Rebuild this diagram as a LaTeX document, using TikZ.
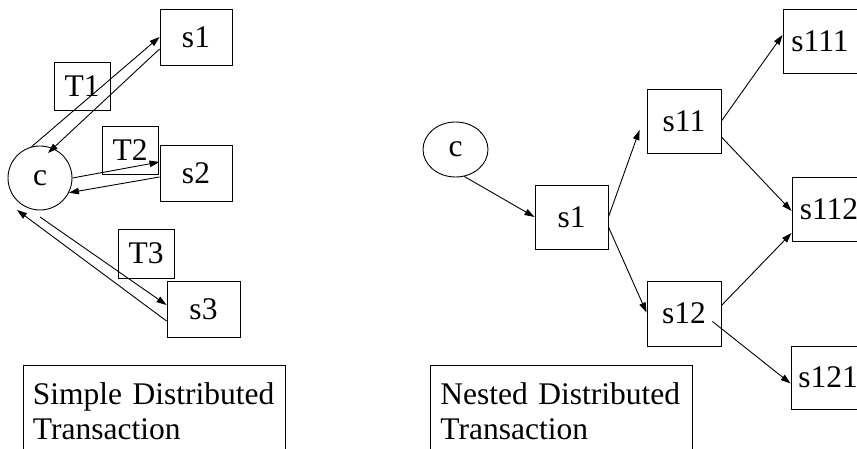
\documentclass[tikz,border=0pt]{standalone}
\usepackage{fontspec}
\setmainfont{Liberation Serif}
\usetikzlibrary{arrows.meta,calc,shapes.geometric}

\tikzset{
  site/.style={draw, rectangle, line width=0.9pt, inner sep=0pt, minimum width=74pt, minimum height=64pt},
  tlabel/.style={draw, rectangle, line width=0.9pt, inner sep=0pt, minimum width=56pt, minimum height=48pt},
  client/.style={draw, ellipse, line width=0.9pt, inner sep=0pt},
  caption/.style={draw, rectangle, line width=0.9pt, anchor=north west, align=left,
                  text width=242pt, inner xsep=10pt, inner ysep=17pt},
  msg/.style={-{Triangle[length=10pt,width=6.5pt]}, line width=0.9pt},
}

\begin{document}
\begin{tikzpicture}[x=1pt, y=-1pt, font=\fontsize{31.5}{35}\selectfont]
  \useasboundingbox (0,0) rectangle (857,449);
  \clip (0,0) rectangle (857,449);

  % Simple distributed transaction (left)
  \node[client, minimum width=64pt, minimum height=64pt] (c) at (40,178) {c};
  \node[site, minimum width=72pt, minimum height=56pt] (s1) at (196,37) {s1};
  \node[site, minimum width=72pt, minimum height=56pt] (s2) at (196,173) {s2};
  \node[site, minimum width=73pt, minimum height=56pt] (s3) at (203.5,309) {s3};
  \node[tlabel] (t1) at (82,86) {T1};
  \node[tlabel] (t2) at (130,150) {T2};
  \node[tlabel, minimum height=49pt] (t3) at (146,253.5) {T3};
  \node[caption] (simple) at (22.5,365) {Simple Distributed\\Transaction};

  % Requests and replies
  \draw[msg] (c.105) -- (s1.west);
  \draw[msg] ($(s1.west)+(0,12)$) -- ($(c)+(8,-25)$);
  \draw[msg] (c.east) -- ($(s2.west)+(0,-11)$);
  \draw[msg] ($(s2.west)+(0,4)$) -- (c.-27);
  \draw[msg] ($(c)+(0,39)$) -- ($(s3.west)+(0,-4)$);
  \draw[msg] ($(s3.west)+(0,12)$) -- ($(c)+(-23,32)$);

  % Nested distributed transaction (right)
  \node[client, minimum width=65pt, minimum height=55pt] (nc) at (455.5,149.5) {c};
  \node[site, minimum width=73pt] (n1) at (571.5,217) {s1};
  \node[site] (n11) at (684,121) {s11};
  \node[site, minimum height=65pt] (n12) at (684,313.5) {s12};
  \node[site] (n111) at (820,41) {s111};
  \node[site] (n112) at (829,209) {s112};
  \node[site, minimum height=63pt] (n121) at (828,377.5) {s121};
  \node[caption] (nested) at (430,365) {Nested Distributed\\Transaction};

  % Sub-transactions
  \draw[msg] (nc.-72) -- (n1.west);
  \draw[msg] (n1.east) -- ($(n11.west)+(-7,9)$);
  \draw[msg] ($(n1.east)+(0,10)$) -- ($(n12.west)+(0,-1)$);
  \draw[msg] (n11.east) -- ($(n111.west)+(0,-6)$);
  \draw[msg] ($(n11.east)+(0,16)$) -- ($(n112.west)+(0,2)$);
  \draw[msg] ($(n12.east)+(0,-8)$) -- ($(n112.west)+(0,24)$);
  \draw[msg] ($(n12.east)+(-9,8)$) -- ($(n121.west)+(0,6)$);
\end{tikzpicture}
\end{document}
